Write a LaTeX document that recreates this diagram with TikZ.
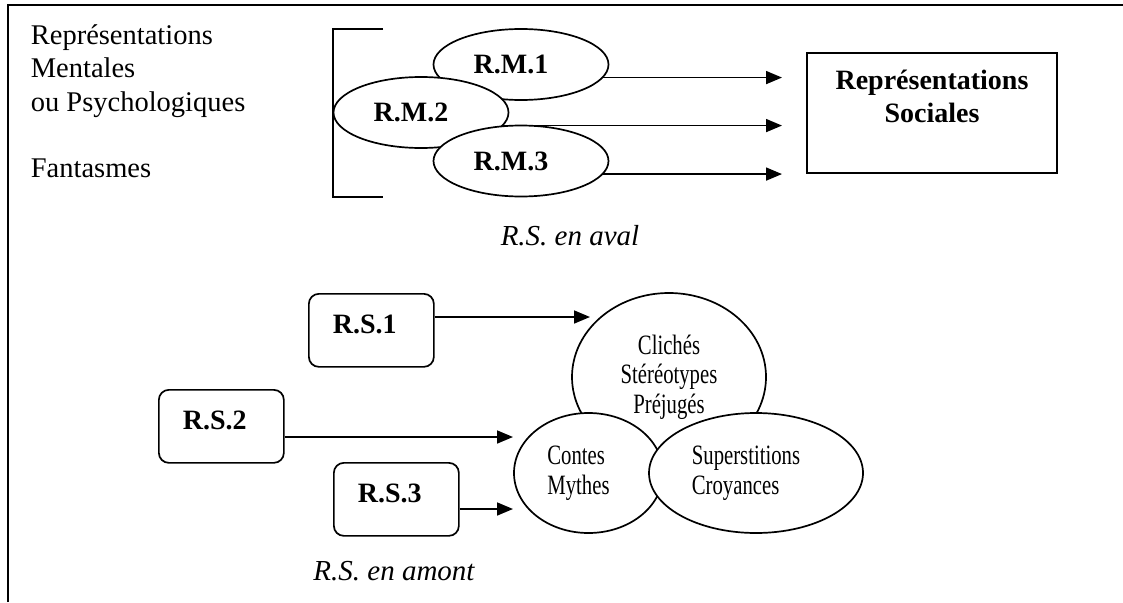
\documentclass[tikz,border=0pt]{standalone}
\usepackage{fontspec}
\setmainfont{Liberation Serif}
\newfontfamily\narrowfont[FakeStretch=0.74]{Liberation Serif}
\usetikzlibrary{arrows.meta,calc,positioning,shapes.geometric}

\begin{document}
\begin{tikzpicture}[x=1pt,y=-1pt,line width=1.7pt,
    rm/.style={draw,ellipse,fill=white,minimum width=175pt,minimum height=71pt,inner sep=0pt,
      font=\fontsize{28}{33}\selectfont\bfseries},
    rsbox/.style={draw,rounded corners=10pt,align=left,text width=77pt,inner xsep=24pt,inner ysep=0pt,
      text height=40pt,text depth=33pt,font=\fontsize{28}{33}\selectfont\bfseries},
    bulle/.style={draw,ellipse,fill=white,inner sep=0pt,font=\narrowfont\fontsize{28}{29.5}\selectfont},
    fleche/.style={-{Triangle[length=16pt,width=13pt]}},
    legende/.style={font=\fontsize{29}{33}\selectfont\itshape}]
    \useasboundingbox (0,0) rectangle (1123,602);
    % cadre
    \draw[line width=2pt] (8,602) -- (8,5) -- (1123,5);

    % R.S. en aval
    \node[anchor=north west,align=left,inner sep=0pt,font=\fontsize{28.5}{33.3}\selectfont]
      (psy) at (30,24) {Représentations\\Mentales\\ou Psychologiques\\[33.3pt]Fantasmes};
    \draw (383,29) -- (333,29) -- (333,197) -- (383,197);
    \node[rm] (rm1) at (521,64.5) {R.M.1\hspace*{20pt}};
    \node[rm] (rm2) at (421,112.5) {R.M.2\hspace*{20pt}};
    \node[rm] (rm3) at (521,161) {R.M.3\hspace*{20pt}};
    \node[draw,minimum width=250pt,minimum height=120pt,align=center,inner sep=0pt,
      font=\fontsize{28}{33}\selectfont\bfseries] (rs) at (932,113) {Représentations\\Sociales\\~};
    \coordinate (fin) at (782,0);
    \foreach \n in {rm1,rm2,rm3}
      \draw[fleche] (\n.351.3) -- (\n.351.3 -| fin);
    \node[legende,anchor=base] (aval) at (570,245) {R.S. en aval};

    % R.S. en amont
    \node[rsbox,anchor=north west] (rs1) at (308,293) {R.S.1};
    \node[rsbox,anchor=north west] (rs2) at (158,389) {R.S.2};
    \node[rsbox,anchor=north west] (rs3) at (333,462) {R.S.3};
    \node[bulle,minimum width=194pt,minimum height=168pt,align=center] (cliche) at (669,377)
      {Clichés\\Stéréotypes\\Préjugés};
    \node[bulle,minimum width=149pt,minimum height=120pt,align=left] (contes) at (588.5,473)
      {Contes\\Mythes\hspace*{20pt}};
    \node[bulle,minimum width=214pt,minimum height=120pt,align=left] (superst) at (756,473)
      {Superstitions\hspace*{20pt}\\Croyances};
    \coordinate (c1) at (590,317);
    \coordinate (c2) at (513,437);
    \coordinate (c3) at (513,509);
    \draw[fleche] (rs1.east |- c1) -- (c1);
    \draw[fleche] (rs2.east |- c2) -- (c2);
    \draw[fleche] (rs3.east |- c3) -- (c3);
    \node[legende,anchor=base] (amont) at (394,580) {R.S. en amont};
  \end{tikzpicture}
\end{document}
